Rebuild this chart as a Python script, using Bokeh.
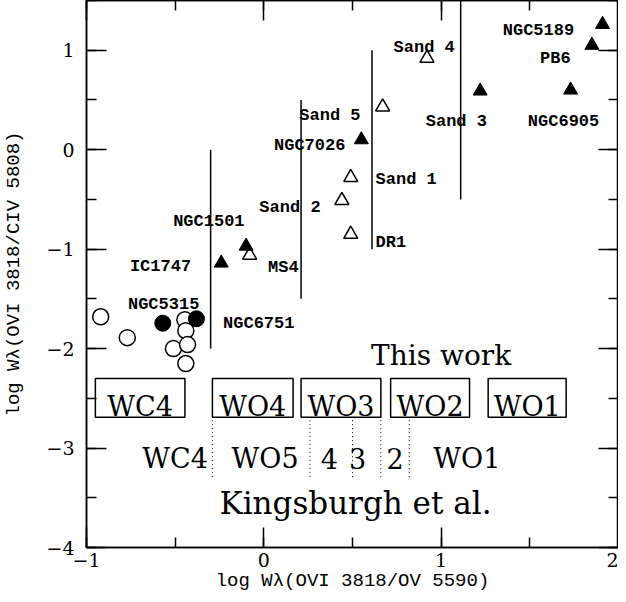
from bokeh.plotting import figure
from bokeh.models import Range1d, LinearAxis, SingleIntervalTicker, ColumnDataSource, CustomJSTickFormatter
from bokeh.core.properties import value
from bokeh.embed import file_html
from bokeh.resources import INLINE

# --- data -----------------------------------------------------------------
# filled triangles (this work, [WO])
ftri_x = [1.91, 1.85, 1.22, 1.73, 0.55, -0.10, -0.24]
ftri_y = [1.26, 1.05, 0.59, 0.60, 0.10, -0.97, -1.14]
# open triangles
otri_x = [0.92, 0.67, 0.49, 0.44, 0.49, -0.08]
otri_y = [0.92, 0.43, -0.28, -0.51, -0.85, -1.06]
# filled circles
fcir_x = [-0.57, -0.38]
fcir_y = [-1.745, -1.70]
# open circles
ocir_x = [-0.92, -0.77, -0.445, -0.44, -0.51, -0.43, -0.44]
ocir_y = [-1.68, -1.89, -1.71, -1.82, -2.00, -1.96, -2.15]

# object names
names = ["NGC5189", "PB6", "Sand 4", "Sand 3", "NGC6905", "Sand 5", "NGC7026",
         "Sand 1", "Sand 2", "DR1", "MS4", "NGC1501", "IC1747", "NGC5315", "NGC6751"]
name_x = [1.75, 1.73, 1.077, 0.913, 1.69, 0.545, 0.46,
          0.63, 0.32, 0.63, 0.024, -0.31, -0.41, -0.565, -0.23]
name_y = [1.20, 0.92, 1.03, 0.28, 0.28, 0.34, 0.04,
          -0.30, -0.58, -0.93, -1.18, -0.725, -1.175, -1.56, -1.745]
name_align = ["right", "right", "right", "left", "center", "right", "right",
              "left", "right", "left", "left", "center", "right", "center", "left"]

# classification boundaries (this work): vertical solid lines
bound_x = [-0.30, 0.21, 0.61, 1.11]
bound_top = [0.0, 0.5, 1.0, 1.5]
bound_bot = [-2.0, -1.5, -1.0, -0.5]

# boxed classes (this work)
box_labels = ["WC4", "WO4", "WO3", "WO2", "WO1"]
box_left = [-0.95, -0.29, 0.21, 0.715, 1.265]
box_right = [-0.445, 0.165, 0.66, 1.16, 1.705]
box_top = -2.30
box_bottom = -2.69

# Kingsburgh et al. scheme
kb_div_x = [-0.29, 0.26, 0.50, 0.66, 0.82]
kb_labels = ["WC4", "WO5", "4", "3", "2", "WO1"]
kb_label_x = [-0.50, 0.007, 0.37, 0.528, 0.74, 1.145]

# --- figure ---------------------------------------------------------------
p = figure(width=618, height=594, x_range=Range1d(-1, 2), y_range=Range1d(-4, 1.5),
           output_backend="svg", toolbar_location=None,
           min_border_left=82, min_border_right=0, min_border_top=0, min_border_bottom=0)
p.background_fill_color = "white"
p.border_fill_color = "white"
p.outline_line_color = "black"
p.outline_line_width = 1.5
p.grid.visible = False

serif = "DejaVu Serif"
mono = "Liberation Mono"

top_ax = LinearAxis()
right_ax = LinearAxis()
p.add_layout(top_ax, "above")
p.add_layout(right_ax, "right")
bottom_ax = p.below[0]
left_ax = p.left[0]

for ax in (top_ax, right_ax, bottom_ax, left_ax):
    ax.ticker = SingleIntervalTicker(interval=1, num_minor_ticks=2)
    ax.major_tick_in = 20
    ax.major_tick_out = 0
    ax.minor_tick_in = 10
    ax.minor_tick_out = 0
    ax.axis_line_color = "black"
    ax.axis_line_width = 1.5
    ax.major_tick_line_width = 1.5
    ax.minor_tick_line_width = 1.5
    ax.major_label_text_font = serif
    ax.major_label_text_font_size = "19px"
    ax.major_label_text_color = "black"
    ax.axis_label_text_font = mono
    ax.axis_label_text_font_size = "19px"
    ax.axis_label_text_font_style = "normal"
    ax.axis_label_text_color = "black"

for ax in (top_ax, right_ax):
    ax.formatter = CustomJSTickFormatter(code="return ''")
    ax.major_label_standoff = 0
    ax.major_label_text_font_size = "1px"

bottom_ax.major_label_standoff = 5
bottom_ax.axis_label = "log Wλ(OVI 3818/OV 5590)"
bottom_ax.axis_label_standoff = 0
left_ax.major_label_standoff = 12
left_ax.axis_label = "log Wλ(OVI 3818/CIV 5808)"
left_ax.axis_label_standoff = 18

# vertical classification lines
p.segment(x0=bound_x, y0=bound_top, x1=bound_x, y1=bound_bot, line_color="black", line_width=1.5)

# boxes
p.quad(left=box_left, right=box_right, top=[box_top] * len(box_left), bottom=[box_bottom] * len(box_left),
       fill_color=None, line_color="black", line_width=1.5)
box_cx = [(a + b) / 2 for a, b in zip(box_left, box_right)]
p.text(x=box_cx, y=[-2.58] * len(box_cx), text=box_labels, text_align="center",
       text_baseline="alphabetic", text_font=value(serif), text_font_size="27px", text_color="black")

# Kingsburgh dotted dividers
p.segment(x0=kb_div_x, y0=[-2.72] * len(kb_div_x), x1=kb_div_x, y1=[-3.30] * len(kb_div_x),
          line_color="black", line_width=1, line_dash="1 3")
p.text(x=kb_label_x, y=[-3.11] * len(kb_label_x), text=kb_labels, text_align="center",
       text_baseline="alphabetic", text_font=value(serif), text_font_size="27px", text_color="black")

p.text(x=[1.0], y=[-2.07], text=["This work"], text_align="center", text_baseline="alphabetic",
       text_font=value(serif), text_font_size="28px", text_color="black")
p.text(x=[0.517], y=[-3.55], text=["Kingsburgh et al."], text_align="center", text_baseline="alphabetic",
       text_font=value(serif), text_font_size="31px", text_color="black")

# markers
p.scatter(ocir_x, ocir_y, marker="circle", size=16, fill_color="white", line_color="black", line_width=1.5)
p.scatter(fcir_x, fcir_y, marker="circle", size=16, fill_color="black", line_color="black")
p.scatter(otri_x, otri_y, marker="triangle", size=14, fill_color="white", line_color="black", line_width=1.5)
p.scatter(ftri_x, ftri_y, marker="triangle", size=14, fill_color="black", line_color="black")

# names
src = ColumnDataSource(dict(x=name_x, y=name_y, t=names, a=name_align))
p.text(x="x", y="y", text="t", text_align="a", text_baseline="alphabetic", source=src,
       text_font=value(mono), text_font_style="bold", text_font_size="17px", text_color="black")

open("out.html", "w").write(file_html(p, INLINE))
